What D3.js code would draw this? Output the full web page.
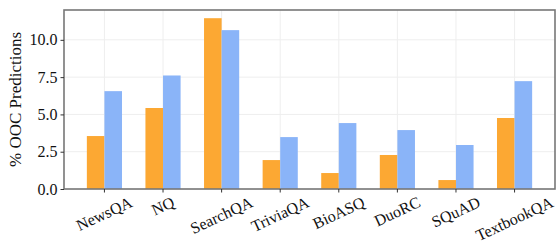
<!DOCTYPE html>
<html>
<head>
<meta charset="utf-8">
<script src="https://cdn.jsdelivr.net/npm/d3@7"></script>
</head>
<body style="margin:0; background:white">
<svg id="chart" style="display:block; font-family:'Liberation Serif', 'Times New Roman', serif"></svg>
<script>
// chart data
var datasets = ["NewsQA", "NQ", "SearchQA", "TriviaQA", "BioASQ", "DuoRC", "SQuAD", "TextbookQA"];
var orangeValues = [3.55, 5.43, 11.45, 1.94, 1.07, 2.28, 0.60, 4.76];
var blueValues = [6.56, 7.61, 10.65, 3.48, 4.42, 3.95, 2.95, 7.23];
var yTicks = [0, 2.5, 5, 7.5, 10];

var serif = "Liberation Serif";

function drawChart(svg) {
    var width = 559,
        height = 246,
        margin = {top: 10, right: 4, bottom: 57, left: 64},
        plotW = width - margin.left - margin.right,
        plotH = height - margin.top - margin.bottom,
        orange = "#fca833",
        blue = "#8ab4f8",
        spine = "#777";

    var canvas = d3.select(svg).attr("width", width).attr("height", height);
    var g = canvas.append("g").attr("transform", "translate(" + margin.left + "," + margin.top + ")");

    var x = d3.scaleBand().domain(datasets).range([0, plotW]).paddingInner(0).paddingOuter(0.19);
    var y = d3.scaleLinear().domain([0, 12]).range([plotH, 0]);
    var barW = x.bandwidth() * 0.3;

    // light grid
    g.selectAll(".hgrid").data(yTicks).enter()
        .append("line")
        .attr("class", "hgrid")
        .attr("x1", 0).attr("x2", plotW)
        .attr("y1", function(d) { return y(d); })
        .attr("y2", function(d) { return y(d); })
        .attr("stroke", "#eeeeee").attr("stroke-width", 1);
    g.selectAll(".vgrid").data(datasets).enter()
        .append("line")
        .attr("class", "vgrid")
        .attr("x1", function(d) { return x(d) + x.bandwidth() / 2; })
        .attr("x2", function(d) { return x(d) + x.bandwidth() / 2; })
        .attr("y1", 0).attr("y2", plotH)
        .attr("stroke", "#eeeeee").attr("stroke-width", 1);

    var cells = [];
    datasets.forEach(function(name, i) {
        cells.push({name: name, value: orangeValues[i], offset: -barW, color: orange});
        cells.push({name: name, value: blueValues[i], offset: 0, color: blue});
    });

    g.selectAll(".bar").data(cells).enter()
        .append("rect")
        .attr("class", "bar")
        .attr("x", function(d) { return x(d.name) + x.bandwidth() / 2 + d.offset; })
        .attr("y", function(d) { return y(d.value); })
        .attr("width", barW)
        .attr("height", function(d) { return plotH - y(d.value); })
        .attr("fill", function(d) { return d.color; });

    // frame
    g.append("rect")
        .attr("x", 0).attr("y", 0)
        .attr("width", plotW).attr("height", plotH)
        .attr("fill", "none").attr("stroke", spine).attr("stroke-width", 1.6);

    // y axis
    var yAxis = g.append("g")
        .call(d3.axisLeft(y).tickValues(yTicks).tickSize(3.5).tickPadding(3)
            .tickFormat(d3.format(".1f")));
    yAxis.attr("font-family", serif).attr("font-size", 16);
    yAxis.select(".domain").remove();
    yAxis.selectAll(".tick line").attr("stroke", "#333").attr("stroke-width", 1);
    yAxis.selectAll("text").attr("fill", "#111");

    // x axis, tick labels rotated and centred under their tick
    var xAxis = g.append("g")
        .attr("transform", "translate(0," + plotH + ")")
        .call(d3.axisBottom(x).tickSize(3.5).tickFormat(""));
    xAxis.select(".domain").remove();
    xAxis.selectAll(".tick line").attr("stroke", "#333").attr("stroke-width", 1);

    var angle = 25 * Math.PI / 180;
    g.selectAll(".xlabel").data(datasets).enter()
        .append("text")
        .attr("class", "xlabel")
        .attr("font-family", serif)
        .attr("font-size", 16)
        .attr("fill", "#111")
        .attr("text-anchor", "middle")
        .attr("dy", "0.32em")
        .text(function(d) { return d; })
        .attr("transform", function(d) {
            var w = this.getComputedTextLength(),
                h = 12,
                boxH = w * Math.sin(angle) + h * Math.cos(angle),
                cx = x(d) + x.bandwidth() / 2,
                cy = plotH + 7 + boxH / 2;
            return "translate(" + cx + "," + cy + ") rotate(-25)";
        });

    // y label
    canvas.append("text")
        .attr("transform", "translate(15," + (margin.top + plotH / 2) + ") rotate(-90)")
        .attr("text-anchor", "middle")
        .attr("dy", "0.35em")
        .attr("font-family", serif)
        .attr("font-size", 17)
        .attr("fill", "#111")
        .text("% OOC Predictions");
}

drawChart(document.getElementById("chart"));
</script>
</body>
</html>
